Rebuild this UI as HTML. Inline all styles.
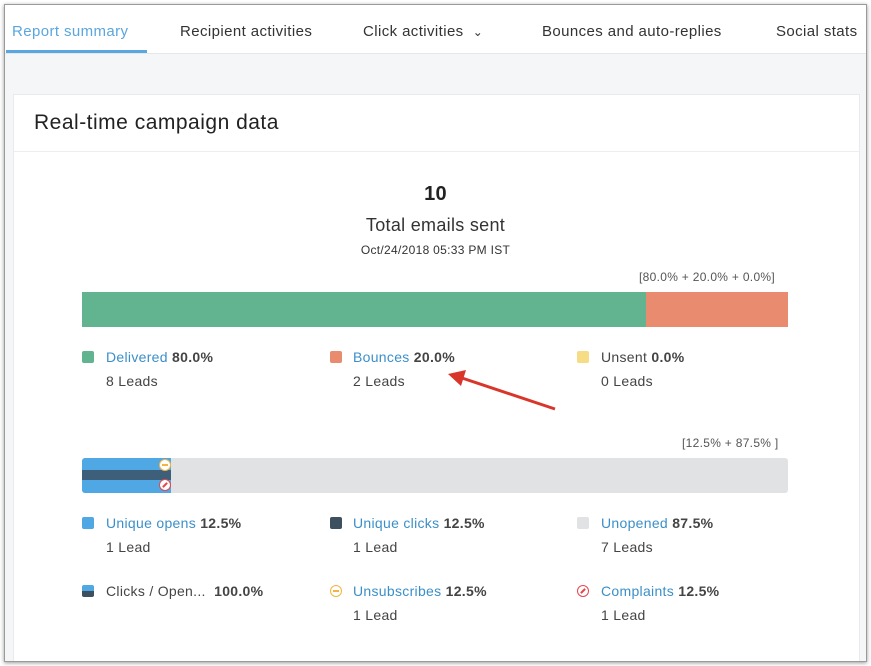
<!DOCTYPE html>
<html><head><style>
body{margin:0;width:871px;height:666px;background:#fff;font-family:"Liberation Sans",sans-serif;position:relative;overflow:hidden}
.frame{position:absolute;left:4px;top:4px;width:861px;height:656px;border:1px solid #9a9a9a;box-shadow:0 1px 4px rgba(0,0,0,.4);background:#f5f6f8;overflow:hidden}
.tabs{position:absolute;left:0;top:0;width:861px;height:48px;background:#fff;border-bottom:1px solid #e5e7ea}
.tab{position:absolute;top:18px;font-size:15px;color:#333;letter-spacing:0.4px;white-space:nowrap}
.card{position:absolute;left:8px;top:89px;width:845px;height:580px;background:#fff;border:1px solid #e8eaed}
.a{position:absolute;font-size:14px;color:#444;white-space:nowrap;letter-spacing:0.3px}
.l{color:#3b8fc9}
.b{font-weight:bold;color:#444}
.sq{position:absolute;width:12px;height:12px;border-radius:2px}
.ci{position:absolute;width:10px;height:10px;border:1.5px solid;border-radius:50%;background:#fff}
.ci::after{content:"";position:absolute;left:2px;top:4px;width:6px;height:2px;background:currentColor}
.no::after{transform:rotate(-45deg)}
</style></head><body>
<div class="frame">
<div class="tabs">
<div class="tab" style="left:7px;color:#5aa6de">Report summary</div>
<div style="position:absolute;left:1px;top:45px;width:141px;height:3px;background:#5aa6de"></div>
<div class="tab" style="left:175px">Recipient activities</div>
<div class="tab" style="left:358px">Click activities &nbsp;<span style="font-size:12px">&#8964;</span></div>
<div class="tab" style="left:537px">Bounces and auto-replies</div>
<div class="tab" style="left:771px">Social stats</div>
</div>
<div class="card">
<div style="position:absolute;left:0;top:0;width:845px;height:56px;border-bottom:1px solid #eceef0"></div>
<div class="a" style="left:20px;top:16px;font-size:21px;color:#222;letter-spacing:0.5px">Real-time campaign data</div>
</div>
</div>
<div class="a" style="left:0;width:871px;text-align:center;top:183px;font-size:20px;font-weight:bold;color:#222">10</div>
<div class="a" style="left:0;width:871px;text-align:center;top:215px;font-size:18px;color:#333">Total emails sent</div>
<div class="a" style="left:0;width:871px;text-align:center;top:243px;font-size:12px;color:#333">Oct/24/2018 05:33 PM IST</div>
<div class="a" style="left:639px;top:270px;font-size:12px;color:#555">[80.0% + 20.0% + 0.0%]</div>
<div style="position:absolute;left:82px;top:292px;width:564px;height:35px;background:#62b38f"></div>
<div style="position:absolute;left:646px;top:292px;width:142px;height:35px;background:#e98b6e"></div>
<div class="sq" style="left:82px;top:351px;background:#62b38f"></div>
<div class="a" style="left:106px;top:349px"><span class="l">Delivered</span> <span class="b">80.0%</span></div>
<div class="a" style="left:106px;top:373px">8 Leads</div>
<div class="sq" style="left:330px;top:351px;background:#e98b6e"></div>
<div class="a" style="left:353px;top:349px"><span class="l">Bounces</span> <span class="b">20.0%</span></div>
<div class="a" style="left:353px;top:373px">2 Leads</div>
<div class="sq" style="left:577px;top:351px;background:#f5dc85"></div>
<div class="a" style="left:601px;top:349px">Unsent <span class="b">0.0%</span></div>
<div class="a" style="left:601px;top:373px">0 Leads</div>
<svg style="position:absolute;left:0;top:0" width="871" height="666"><line x1="555" y1="409" x2="462" y2="378" stroke="#d9362b" stroke-width="3"/><polygon points="448,374 466,370 461,386" fill="#d9362b"/></svg>
<div class="a" style="left:682px;top:436px;font-size:12px;color:#555">[12.5% + 87.5% ]</div>
<div style="position:absolute;left:82px;top:458px;width:706px;height:35px;background:#e0e2e4;border-radius:3px"></div>
<div style="position:absolute;left:82px;top:458px;width:89px;height:35px;background:#4fa7e3;border-radius:3px 0 0 3px"></div>
<div style="position:absolute;left:82px;top:470px;width:89px;height:10px;background:#3d5f7a"></div>
<div class="ci" style="left:159px;top:459px;color:#f5b441"></div>
<div class="ci no" style="left:159px;top:479px;color:#e8464b"></div>
<div class="sq" style="left:82px;top:517px;background:#4fa7e3"></div>
<div class="a" style="left:106px;top:515px"><span class="l">Unique opens</span> <span class="b">12.5%</span></div>
<div class="a" style="left:106px;top:539px">1 Lead</div>
<div class="sq" style="left:330px;top:517px;background:#3d5060"></div>
<div class="a" style="left:353px;top:515px"><span class="l">Unique clicks</span> <span class="b">12.5%</span></div>
<div class="a" style="left:353px;top:539px">1 Lead</div>
<div class="sq" style="left:577px;top:517px;background:#e0e2e4"></div>
<div class="a" style="left:601px;top:515px"><span class="l">Unopened</span> <span class="b">87.5%</span></div>
<div class="a" style="left:601px;top:539px">7 Leads</div>
<div class="sq" style="left:82px;top:585px;background:linear-gradient(#4fa7e3 50%,#3d5060 50%)"></div>
<div class="a" style="left:106px;top:583px">Clicks / Open... &nbsp;<span class="b">100.0%</span></div>
<div class="ci" style="left:330px;top:585px;color:#f5b441"></div>
<div class="a" style="left:353px;top:583px"><span class="l">Unsubscribes</span> <span class="b">12.5%</span></div>
<div class="a" style="left:353px;top:607px">1 Lead</div>
<div class="ci no" style="left:577px;top:585px;color:#e8464b"></div>
<div class="a" style="left:601px;top:583px"><span class="l">Complaints</span> <span class="b">12.5%</span></div>
<div class="a" style="left:601px;top:607px">1 Lead</div>
</body></html>
